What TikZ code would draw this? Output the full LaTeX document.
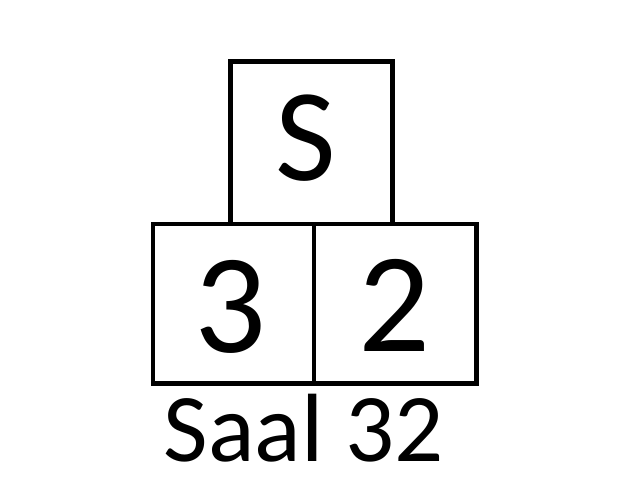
\documentclass[tikz,border=0pt]{standalone}
\usepackage{fontspec}
\setmainfont{Carlito}
\begin{document}
\begin{tikzpicture}[x=1pt,y=-1pt,
  box/.style={draw=black,line width=4.5pt,inner sep=0pt,outer sep=0pt,anchor=north west},
  big/.style={inner sep=0pt,anchor=base,font=\fontsize{132}{132}\selectfont},
  digit/.style={inner sep=0pt,anchor=base,font=\fontsize{142}{142}\selectfont},
  caption/.style={inner sep=0pt,anchor=base,font=\fontsize{97}{97}\selectfont}]
\useasboundingbox (0,0) rectangle (640,480);
\node[box,minimum width=162pt,minimum height=162.3pt] (top) at (230.5,61.7) {};
\node[box,minimum width=161.2pt,minimum height=159.7pt] (left) at (153,224) {};
\node[box,minimum width=162.5pt,minimum height=159.7pt] (right) at (314.2,224) {};
\node[big] (s) at (306,180) {S};
\node[digit] (three) at (230.5,352) {3};
\node[digit] (two) at (394,351) {2};
\node[caption] (saal) at (304,461) {Saal 32};
\end{tikzpicture}
\end{document}
